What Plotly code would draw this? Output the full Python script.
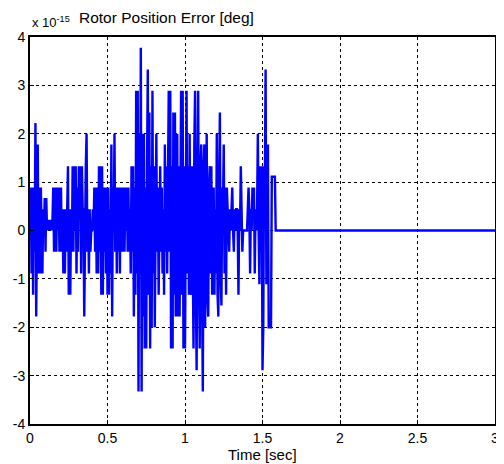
import numpy as np
import plotly.graph_objects as go

# Rotor position error, units of 1e-15 deg, sampled every 0.005 s from t=0
dt = 0.005
err = [
    # 0.00 - 0.095
    0, 0.89, -0.89, 0.89, -1.33, 0.89, -0.44, 2.22, -1.78, 0.89,
    1.78, -0.89, 0.89, -0.89, 0.89, 0, -0.89, 0.44, 0, 0.67,
    # 0.10 - 0.195
    -0.44, 0.67, 0, 0.22, 0, 0.22, 0, 0.22, 0, 0.22,
    0.89, -0.44, 0.44, 0.89, -0.44, 0.89, 0, 0.89, -0.44, 0.44,
    # 0.20 - 0.295
    0.89, -0.44, 0.44, -0.89, 0.44, -0.89, 0.44, -0.44, 0.44, 1.33,
    -1.33, 0.44, -1.33, 0.44, -0.44, 1.33, -0.44, 1.33, 0, 1.33,
    # 0.30 - 0.395
    -0.89, 0.89, -0.44, 1.33, 0.44, 1.33, -0.89, 1.33, 0.44, 0.44,
    -1.78, 0.44, 1.33, 2.0, -0.44, 0.44, -0.89, 0.44, -0.44, 0,
    # 0.40 - 0.495
    0, 0.44, 0, 0.89, -0.44, 0.89, -0.89, 0.89, -0.89, 1.33,
    -0.44, 1.33, -1.33, 1.33, -1.33, 0.89, -0.44, 0.89, -0.89, 0.89,
    # 0.50 - 0.595
    -1.33, 0.89, -1.33, 0.44, -0.89, 1.78, -1.78, 0.89, 0, 2.0,
    -0.44, 0.89, -0.89, 0.89, -0.44, 0.89, -0.89, 0.89, -0.44, 0.89,
    # 0.60 - 0.695
    -0.44, 0.89, -0.44, 0.89, 0, 0.89, -0.44, 0.89, -0.44, 0.44,
    -0.89, 1.33, -0.44, 1.33, -1.78, 0.89, -1.33, 2.89, -0.89, 2.89,
    # 0.70 - 0.795
    -3.33, 2.0, -0.89, 3.78, -3.33, 2.0, -1.78, 2.0, -2.44, 0.89,
    -2.44, 1.33, 3.33, -1.33, 2.44, -2.44, 1.33, -2.0, 2.89, -0.89,
    # 0.80 - 0.895
    1.33, -2.0, 0.89, 2.0, -0.44, 0.89, -1.33, 0.44, 1.33, -0.44,
    0.89, -0.89, 0.44, -1.33, 1.78, -0.44, 1.33, -0.89, 0.44, 2.89,
    # 0.90 - 0.995
    -0.44, 2.89, -2.44, 1.33, -2.44, 2.44, -1.33, 2.44, -1.78, 0.89,
    2.0, -1.78, 1.33, -1.78, 0.89, 2.89, -1.33, 2.89, -2.44, 1.33,
    # 1.00 - 1.095
    -2.44, 0.89, 2.89, -0.89, 1.33, -1.33, 2.0, -0.89, -1.33, 1.33,
    -0.89, -2.44, 1.78, 2.89, -1.33, -2.89, 0.89, 2.89, -0.89, -2.44,
    # 1.10 - 1.195
    1.33, 1.78, -1.33, -3.33, 1.33, 1.78, -2.0, 0.89, 2.0, -1.33,
    -1.78, 0.89, 1.33, -0.89, 1.33, -1.33, 0.44, 0.89, -1.33, 0.44,
    # 1.20 - 1.295
    -0.89, 2.0, -1.33, -1.78, 0.89, 2.44, -0.89, -1.55, 0.89, 0.44,
    1.78, -0.89, 0.89, -1.33, 0.89, 0.44, 0, -0.44, 0.44, 0,
    # 1.30 - 1.395
    0.44, 0.89, 0, -0.44, 0.44, 0, 0.44, 0.44, 0, -1.33,
    0.44, 0, 1.33, 0.44, -0.44, 0, 0, 0, 0, 0,
    # 1.40 - 1.495
    0, 0.44, 0.89, 0.44, -0.89, 0.44, 0, 0.89, 0.44, 0.89,
    -0.89, 0.44, 0, 0.44, 2.0, 0, -1.11, 1.33, -0.44, 1.33,
    # 1.50 - 1.595
    -2.89, -2.0, 1.33, 0.89, 3.33, -1.11, 0.89, 1.78, -2.0, -2.0,
    -2.0, -2.0, 1.11, 1.11, 1.11, 1.11, 1.11, 0, 0, 0,
]
t_end = 3.0
err_end = 0

x_ticks = [0, 0.5, 1, 1.5, 2, 2.5, 3]
x_tick_labels = ["0", "0.5", "1", "1.5", "2", "2.5", "3"]
y_ticks = [-4, -3, -2, -1, 0, 1, 2, 3, 4]
y_tick_labels = ["-4", "-3", "-2", "-1", "0", "1", "2", "3", "4"]

t = list(np.arange(len(err)) * dt) + [t_end]
y = list(err) + [err_end]

FONT = "Liberation Sans, Arial, sans-serif"

fig = go.Figure()
fig.add_trace(go.Scatter(x=t, y=y, mode="lines",
                         line=dict(color="#0000FF", width=2.4),
                         showlegend=False, hoverinfo="skip"))

axis_common = dict(
    showline=True, linecolor="black", linewidth=2, mirror=True,
    showgrid=True, gridcolor="black", gridwidth=1, griddash="dot",
    zeroline=False, ticks="inside", ticklen=4, tickcolor="black",
    tickfont=dict(family=FONT, size=14, color="black"),
    automargin=False,
)
fig.update_xaxes(range=[0, 3], tickvals=x_ticks, ticktext=x_tick_labels,
                 **axis_common)
fig.update_yaxes(range=[-4, 4], tickvals=y_ticks, ticktext=y_tick_labels,
                 **axis_common)

fig.add_annotation(text="Time [sec]", xref="paper", yref="paper",
                   x=0.5, y=-0.078, xanchor="center", yanchor="middle",
                   showarrow=False, font=dict(family=FONT, size=15, color="black"))
fig.add_annotation(text="Rotor Position Error [deg]", xref="paper", yref="paper",
                   x=0.101, y=1.05, xanchor="left", yanchor="middle",
                   showarrow=False, font=dict(family=FONT, size=15.5, color="black"))
fig.add_annotation(text="x 10<sup>-15</sup>", xref="paper", yref="paper",
                   x=0.0, y=1.04, xanchor="left", yanchor="middle",
                   showarrow=False, font=dict(family=FONT, size=13, color="black"))

# page body has an 8px margin, so the figure is sized and offset for it
fig.update_layout(
    width=496, height=456,
    margin=dict(l=22, r=9, t=29, b=40, autoexpand=False),
    paper_bgcolor="white", plot_bgcolor="white",
    font=dict(family=FONT, color="black"),
)
fig.write_html("out.html")
